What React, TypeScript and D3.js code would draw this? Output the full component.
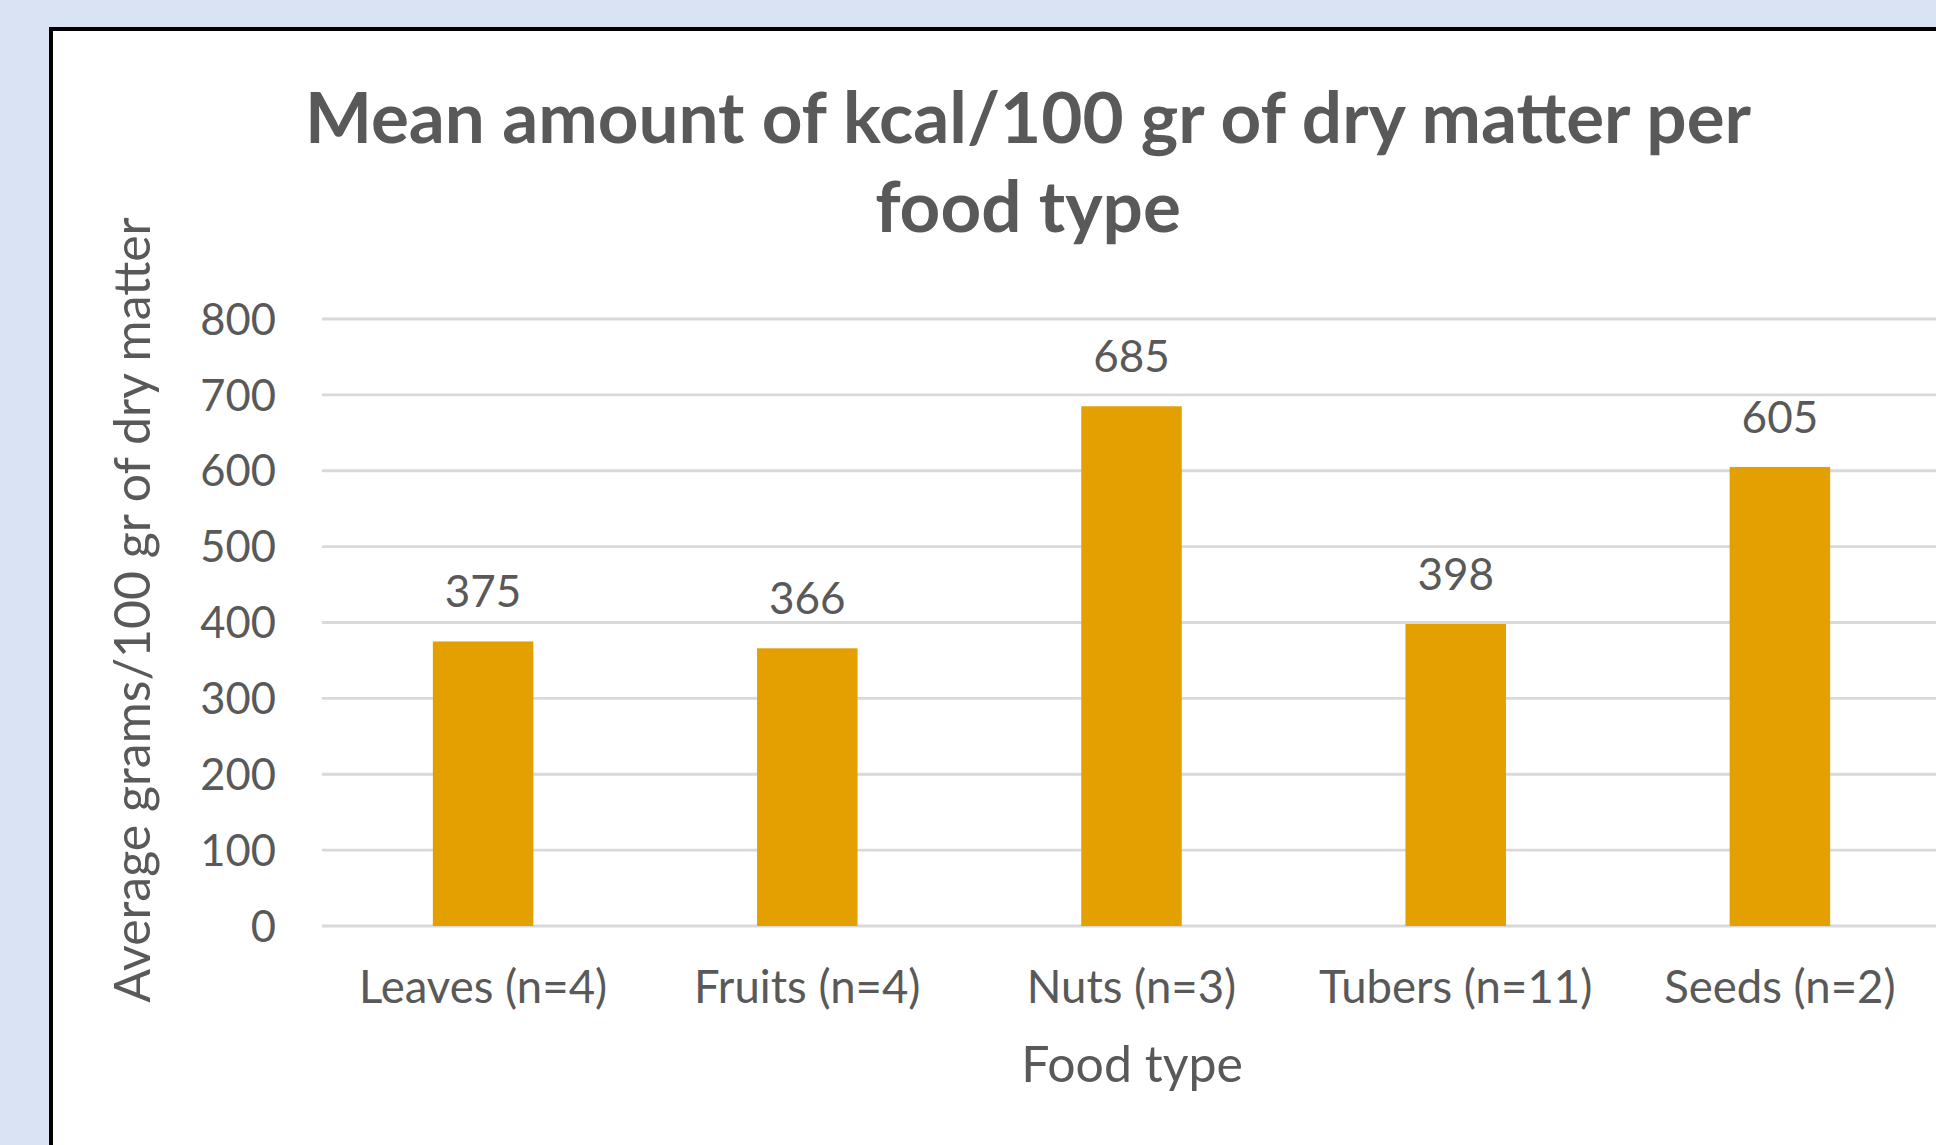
import React from "react";
import * as d3 from "d3";

// Food categories and their mean energy content (kcal per 100 g dry matter)
const categories = ["Leaves (n=4)", "Fruits (n=4)", "Nuts (n=3)", "Tubers (n=11)", "Seeds (n=2)"];
const values = [375, 366, 685, 398, 605];
const yTicks = [0, 100, 200, 300, 400, 500, 600, 700, 800];
const titleLines = ["Mean amount of kcal/100 gr of dry matter per", "food type"];
const xTitle = "Food type";
const yTitle = "Average grams/100 gr of dry matter";

const W = 1936;
const H = 1145;
const FONT = "Lato, 'Open Sans', sans-serif";
const TEXT = "#595959";
const BAR = "#E4A000";
const GRID = "#D9D9D9";

export default function App() {
  const x = d3
    .scaleBand<string>()
    .domain(categories)
    .range([321, 1942])
    .paddingInner(0.69)
    .paddingOuter(0.345);
  const y = d3.scaleLinear().domain([0, 800]).range([926, 319]);

  return (
    <svg
      width={W}
      height={H}
      style={{ position: "absolute", left: 0, top: 0, display: "block" }}
      fontFamily={FONT}
    >
      <rect x={0} y={0} width={W} height={H} fill="#DAE3F3" />
      <rect x={51} y={29} width={W + 20} height={H + 20} fill="#ffffff" stroke="#000000" strokeWidth={4} />

      {/* title */}
      {titleLines.map((t, i) => (
        <text
          key={t}
          x={1028}
          y={143 + i * 89}
          textAnchor="middle"
          fontSize={71}
          fontWeight={700}
          fill={TEXT}
        >
          {t}
        </text>
      ))}

      {/* gridlines and y tick labels */}
      {yTicks.map((t) => (
        <g key={t}>
          <line x1={322} x2={W} y1={y(t)} y2={y(t)} stroke={GRID} strokeWidth={2.8} />
          <text
            x={276}
            y={y(t)}
            dy="0.36em"
            textAnchor="end"
            fontSize={43.5}
            fill={TEXT}
          >
            {t}
          </text>
        </g>
      ))}

      {/* bars with value labels */}
      {categories.map((c, i) => {
        const bx = x(c) as number;
        const cx = bx + x.bandwidth() / 2;
        return (
          <g key={c}>
            <rect x={bx} y={y(values[i])} width={x.bandwidth()} height={y(0) - y(values[i])} fill={BAR} />
            <text x={cx} y={y(values[i]) - 34} textAnchor="middle" fontSize={44} fill={TEXT}>
              {values[i]}
            </text>
            <text x={cx} y={1003} textAnchor="middle" fontSize={45.5} fill={TEXT}>
              {c}
            </text>
          </g>
        );
      })}

      {/* axis titles */}
      <text x={1132} y={1082} textAnchor="middle" fontSize={50} fill={TEXT}>
        {xTitle}
      </text>
      <text
        transform={`translate(150, 610) rotate(-90)`}
        textAnchor="middle"
        fontSize={50}
        fill={TEXT}
      >
        {yTitle}
      </text>
    </svg>
  );
}
